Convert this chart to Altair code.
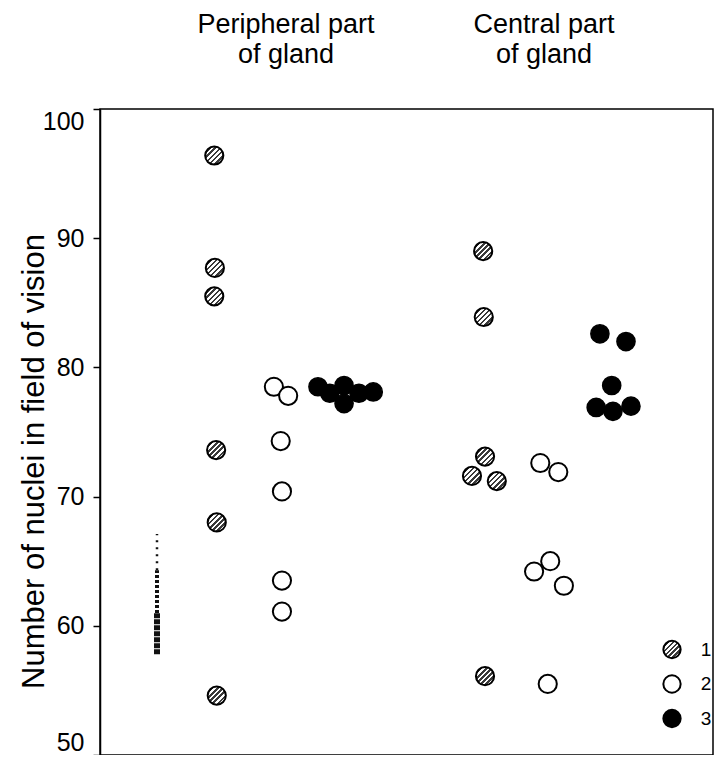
import altair as alt
import pandas as pd

# ---- data ----
# horizontal positions are in % of the plot width, values are nuclei counts
periph_1_x = [18.4, 18.5, 18.4, 18.7, 18.8, 18.8]
periph_1_y = [96.4, 87.7, 85.5, 73.6, 68.0, 54.6]
periph_2_x = [28.0, 30.3, 29.1, 29.3, 29.3, 29.3]
periph_2_y = [78.5, 77.8, 74.3, 70.4, 63.5, 61.1]
periph_3_x = [35.1, 37.0, 39.3, 39.3, 41.7, 44.0]
periph_3_y = [78.5, 78.0, 78.6, 77.2, 78.0, 78.1]
central_1_x = [61.7, 61.8, 62.0, 59.9, 63.9, 62.0]
central_1_y = [89.0, 83.9, 73.1, 71.6, 71.2, 56.1]
central_2_x = [70.9, 73.8, 69.9, 72.5, 74.7, 72.1]
central_2_y = [72.6, 71.9, 64.2, 65.0, 63.1, 55.5]
central_3_x = [80.5, 84.7, 82.4, 79.9, 82.6, 85.5]
central_3_y = [82.6, 82.0, 78.6, 76.9, 76.6, 77.0]

# dark strip of control values at left (from, to)
strip_dense = [57.8, 61.0]
strip_mid = [61.0, 64.3]
strip_sparse = [64.3, 67.1]

y_ticks = [50, 60, 70, 80, 90, 100]
legend_labels = ["1", "2", "3"]
column_titles = [["Peripheral part", "of gland"], ["Central part", "of gland"]]
y_title = "Number of nuclei in field of vision"

rows = []
for region, grp, xs, ys in [
    ("peripheral", 1, periph_1_x, periph_1_y),
    ("peripheral", 2, periph_2_x, periph_2_y),
    ("peripheral", 3, periph_3_x, periph_3_y),
    ("central", 1, central_1_x, central_1_y),
    ("central", 2, central_2_x, central_2_y),
    ("central", 3, central_3_x, central_3_y),
]:
    for xv, yv in zip(xs, ys):
        rows.append({"region": region, "group": grp, "x": xv, "value": yv})
df = pd.DataFrame(rows)

# hatched fill via a striped linear gradient
stops = []
n = 14
for i in range(n):
    c = "#3a3a3a" if i % 2 == 0 else "#ffffff"
    stops.append(alt.GradientStop(offset=i / n, color=c))
    stops.append(alt.GradientStop(offset=(i + 1) / n, color=c))
hatch = alt.LinearGradient(gradient="linear", stops=stops, x1=0, y1=0, x2=1, y2=1)

FONT = "Liberation Sans"
W = 613

xenc = alt.X("x:Q", scale=alt.Scale(domain=[0, 100 * 613 / 621]), axis=None)
yenc = alt.Y(
    "value:Q",
    scale=alt.Scale(domain=[50, 100], nice=False, zero=False),
    axis=alt.Axis(
        values=y_ticks,
        grid=False,
        title=y_title,
        titleFont=FONT,
        titleFontSize=31,
        titleFontWeight="normal",
        titleColor="black",
        titleX=-57,
        titleY=352,
        titleAngle=270,
        titleAlign="center",
        titleBaseline="alphabetic",
        labelFont=FONT,
        labelFontSize=25,
        labelColor="black",
        labelPadding=9,
        labelFlush=True,
        tickSize=7,
        tickColor="black",
        tickWidth=1.5,
        domainColor="black",
        domainWidth=1.5,
    ),
)

base = alt.Chart(df).encode(x=xenc, y=yenc)
SIZE = 330
g1 = base.transform_filter("datum.group == 1").mark_point(
    shape="circle", size=SIZE, fill=hatch, stroke="black", strokeWidth=2, opacity=1, fillOpacity=1
)
g2 = base.transform_filter("datum.group == 2").mark_point(
    shape="circle", size=SIZE, fill="white", stroke="black", strokeWidth=2, opacity=1, fillOpacity=1
)
g3 = base.transform_filter("datum.group == 3").mark_point(
    shape="circle", size=SIZE, fill="black", stroke="black", strokeWidth=1.5, opacity=1, fillOpacity=1
)

strip_layers = []
for (lo, hi), w, dash in [(strip_dense, 6, [5, 1]), (strip_mid, 4, [3, 2]), (strip_sparse, 2.5, [2, 5])]:
    strip_layers.append(
        alt.Chart(pd.DataFrame({"lo": [lo], "hi": [hi]}))
        .mark_rule(color="#111111", strokeWidth=w, strokeDash=dash)
        .encode(x=alt.value(57), y=alt.Y("lo:Q"), y2="hi:Q")
    )

# column titles
title_layers = []
for (line1, line2), cx in zip(column_titles, [186, 444]):
    for txt, by in [(line1, -76), (line2, -46.5)]:
        title_layers.append(
            alt.Chart(pd.DataFrame({"t": [txt]}))
            .mark_text(font=FONT, fontSize=27, align="center", baseline="alphabetic", color="black")
            .encode(text="t:N", x=alt.value(cx), y=alt.value(by))
        )

# legend
legend_layers = []
fills = [hatch, "white", "black"]
for i, (lab, f) in enumerate(zip(legend_labels, fills)):
    ly = 540.5 + 34.5 * i
    legend_layers.append(
        alt.Chart(pd.DataFrame({"t": [lab]}))
        .mark_point(shape="circle", size=300, fill=f, stroke="black", strokeWidth=2, opacity=1, fillOpacity=1)
        .encode(x=alt.value(572), y=alt.value(ly))
    )
    legend_layers.append(
        alt.Chart(pd.DataFrame({"t": [lab]}))
        .mark_text(font=FONT, fontSize=19, align="center", baseline="middle", color="black")
        .encode(text="t:N", x=alt.value(606), y=alt.value(ly))
    )

chart = (
    alt.layer(g1, g2, g3, *strip_layers, *title_layers, *legend_layers)
    .properties(
        width=W,
        height=646,
        autosize=alt.AutoSizeParams(type="none"),
        padding={"left": 92, "top": 101, "right": 1, "bottom": 0},
        background="white",
    )
    .configure_view(stroke="black", strokeWidth=1.5)
)

chart.save("out.html", embed_options={"renderer": "svg", "actions": False})
